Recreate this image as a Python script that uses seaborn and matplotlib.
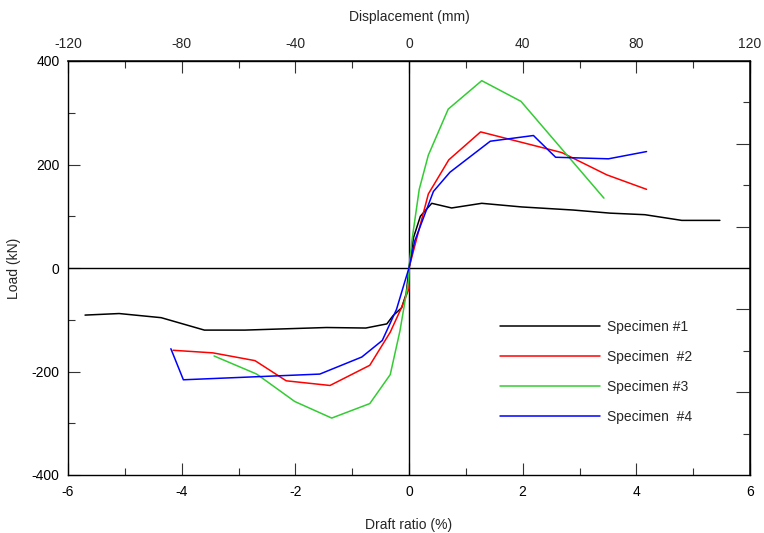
import numpy as np
import pandas as pd
import matplotlib
matplotlib.use("Agg")
import matplotlib.pyplot as plt
import seaborn as sns
from matplotlib.ticker import MultipleLocator, FixedLocator, NullFormatter

sns.set_theme(style="white")
plt.rcParams['font.family'] = ['Liberation Sans', 'DejaVu Sans']
plt.rcParams['axes.unicode_minus'] = False

# ---- data (drift ratio %, load kN) ----
s1_x = [-5.70, -5.10, -4.36, -3.60, -2.89, -1.45, -0.76, -0.39, -0.28, -0.13, -0.05, 0.0, 0.08, 0.20, 0.40, 0.75, 1.28, 1.98, 2.89, 3.54, 4.15, 4.80, 5.47]
s1_y = [-91, -88, -96, -120, -120, -115, -116, -108, -92, -77, -50, 0, 59, 100, 125, 116, 125, 118, 112, 106, 103, 92, 92]

s2_x = [-4.15, -3.45, -2.71, -2.16, -1.39, -0.69, -0.33, -0.13, 0.0, 0.0, 0.34, 0.70, 1.26, 2.69, 3.48, 4.18]
s2_y = [-159, -164, -179, -218, -227, -188, -124, -76, -40, 0, 143, 209, 263, 223, 180, 152]

s3_x = [-3.43, -2.68, -2.01, -1.36, -0.69, -0.33, -0.16, -0.01, 0.0, 0.05, 0.18, 0.34, 0.69, 1.28, 1.97, 3.43]
s3_y = [-170, -205, -258, -290, -262, -206, -122, -25, 0, 52, 152, 218, 307, 362, 322, 135]

s4_x = [-4.19, -3.97, -1.57, -0.83, -0.47, -0.22, -0.07, 0.0, 0.10, 0.43, 0.72, 1.43, 2.19, 2.58, 3.51, 4.18]
s4_y = [-156, -216, -205, -172, -140, -80, -25, 0, 52, 148, 185, 245, 256, 214, 211, 225]

labels = ["Specimen #1", "Specimen  #2", "Specimen #3", "Specimen  #4"]
colors = ["#000000", "#ff0000", "#33cc33", "#0000ff"]

top_ticks = [-120, -80, -40, 0, 40, 80, 120]
top_minor = [-100, -60, -20, 20, 60, 100]

frames = []
for lab, xs, ys in zip(labels, [s1_x, s2_x, s3_x, s4_x], [s1_y, s2_y, s3_y, s4_y]):
    frames.append(pd.DataFrame({"drift": xs, "load": ys, "specimen": lab}))
df = pd.concat(frames, ignore_index=True)

fig = plt.figure(figsize=(7.64, 5.33), dpi=100)
ax = fig.add_axes([68/764, 1-475/533, (750-68)/764, (475-61)/533])

ax.axhline(0, color="black", lw=1.0, zorder=1)
ax.axvline(0, color="black", lw=1.0, zorder=1)

sns.lineplot(data=df, x="drift", y="load", hue="specimen", units="specimen",
             estimator=None, sort=False, palette=colors, hue_order=labels,
             lw=1.1, ax=ax, zorder=3)

ax.set_xlim(-6, 6)
ax.set_ylim(-400, 400)

for s in ax.spines.values():
    s.set_color("black")
    s.set_linewidth(1.0)
    s.set_visible(True)

fs = 10
ax.xaxis.set_major_locator(MultipleLocator(2))
ax.xaxis.set_minor_locator(MultipleLocator(1))
ax.yaxis.set_major_locator(MultipleLocator(200))
ax.yaxis.set_minor_locator(MultipleLocator(100))
ax.tick_params(axis="both", which="major", direction="in", length=8.6, width=0.8,
               color="#333333", labelsize=fs, labelcolor="black")
ax.tick_params(axis="x", which="major", pad=7)
ax.tick_params(axis="y", which="major", pad=6)
ax.tick_params(axis="both", which="minor", direction="in", length=5, width=0.8, color="#333333")
ax.tick_params(bottom=True, left=True, which="both")

ax.set_xlabel("Draft ratio (%)", fontsize=fs, labelpad=14)
ax.set_ylabel("Load (kN)", fontsize=fs, labelpad=8)

# top axis: displacement (mm) = drift * 20
top = ax.secondary_xaxis("top", functions=(lambda x: x * 20, lambda d: d / 20))
top.xaxis.set_major_locator(FixedLocator(top_ticks))
top.xaxis.set_minor_locator(FixedLocator(top_minor))
top.tick_params(which="major", direction="in", length=8.6, width=0.8, color="#333333",
                labelsize=fs, pad=7)
top.tick_params(which="minor", direction="in", length=5, width=0.8, color="#333333")
top.set_xlabel("Displacement (mm)", fontsize=fs, labelpad=12)

# right axis: unlabeled ticks
right = ax.secondary_yaxis("right")
right.yaxis.set_major_locator(FixedLocator([-240, -80, 80, 240]))
right.yaxis.set_minor_locator(FixedLocator([-320, -160, 160, 320]))
right.yaxis.set_major_formatter(NullFormatter())
right.tick_params(which="major", direction="in", length=10, width=0.8, color="#333333")
right.tick_params(which="minor", direction="in", length=5, width=0.8, color="#333333")

leg = ax.legend(loc="upper left", bbox_to_anchor=((500-68)/682, (475-320)/414),
                frameon=False, fontsize=fs, handlelength=7.2, handletextpad=0.5,
                labelspacing=1.15, borderpad=0, borderaxespad=0)
for h in leg.get_lines():
    h.set_linewidth(1.1)

fig.savefig("out.png", dpi=100)
